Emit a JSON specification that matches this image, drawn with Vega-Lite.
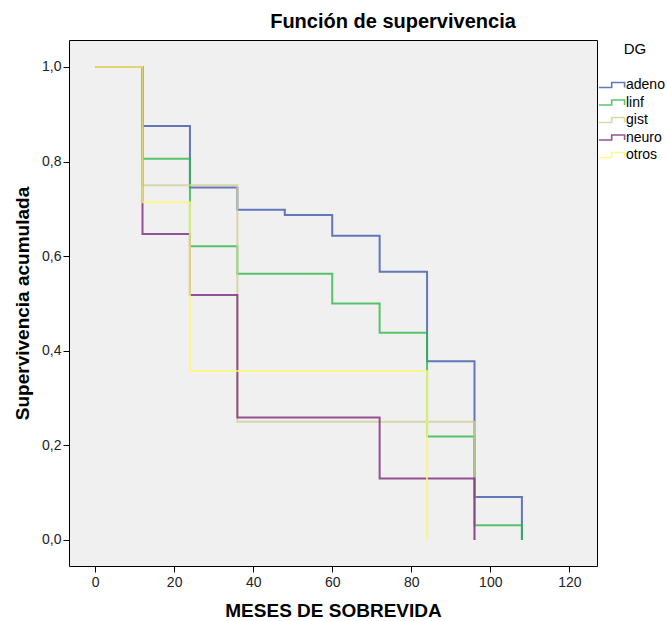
{
  "$schema": "https://vega.github.io/schema/vega-lite/v6.json",
  "autosize": "none",
  "width": 528,
  "height": 526,
  "padding": {"left": 69, "top": 40, "right": 70, "bottom": 55},
  "background": "#ffffff",
  "config": {
    "font": "Liberation Sans",
    "view": {"fill": "#F0F0F0", "stroke": "#000000", "strokeWidth": 1}
  },
  "title": {
    "text": "Función de supervivencia",
    "fontSize": 20,
    "fontWeight": "bold",
    "color": "#000000",
    "anchor": "middle",
    "dx": 60,
    "offset": 8
  },
  "data": {
    "values": [
      {"DG": "adeno", "mes": 0, "surv": 1.0},
      {"DG": "adeno", "mes": 12, "surv": 0.875},
      {"DG": "adeno", "mes": 24, "surv": 0.745},
      {"DG": "adeno", "mes": 36, "surv": 0.698},
      {"DG": "adeno", "mes": 48, "surv": 0.687},
      {"DG": "adeno", "mes": 60, "surv": 0.643},
      {"DG": "adeno", "mes": 72, "surv": 0.567},
      {"DG": "adeno", "mes": 84, "surv": 0.378},
      {"DG": "adeno", "mes": 96, "surv": 0.091},
      {"DG": "adeno", "mes": 108, "surv": 0.0},
      {"DG": "linf", "mes": 0, "surv": 1.0},
      {"DG": "linf", "mes": 12, "surv": 0.806},
      {"DG": "linf", "mes": 24, "surv": 0.621},
      {"DG": "linf", "mes": 36, "surv": 0.563},
      {"DG": "linf", "mes": 60, "surv": 0.5},
      {"DG": "linf", "mes": 72, "surv": 0.438},
      {"DG": "linf", "mes": 84, "surv": 0.219},
      {"DG": "linf", "mes": 96, "surv": 0.031},
      {"DG": "linf", "mes": 108, "surv": 0.0},
      {"DG": "gist", "mes": 0, "surv": 1.0},
      {"DG": "gist", "mes": 12, "surv": 0.75},
      {"DG": "gist", "mes": 36, "surv": 0.25},
      {"DG": "gist", "mes": 96, "surv": 0.0},
      {"DG": "neuro", "mes": 0, "surv": 1.0},
      {"DG": "neuro", "mes": 12, "surv": 0.647},
      {"DG": "neuro", "mes": 24, "surv": 0.518},
      {"DG": "neuro", "mes": 36, "surv": 0.259},
      {"DG": "neuro", "mes": 72, "surv": 0.13},
      {"DG": "neuro", "mes": 96, "surv": 0.0},
      {"DG": "otros", "mes": 0, "surv": 1.0},
      {"DG": "otros", "mes": 12, "surv": 0.714},
      {"DG": "otros", "mes": 24, "surv": 0.357},
      {"DG": "otros", "mes": 84, "surv": 0.0}
    ]
  },
  "mark": {"type": "line", "interpolate": "step-after", "strokeWidth": 2, "opacity": 0.8},
  "encoding": {
    "x": {
      "field": "mes",
      "type": "quantitative",
      "scale": {"domain": [-6.6, 127], "nice": false, "zero": false},
      "axis": {
        "title": "MESES DE SOBREVIDA",
        "titleFontSize": 19,
        "titleFontWeight": "bold",
        "titleColor": "#000000",
        "titlePadding": 12,
        "values": [0, 20, 40, 60, 80, 100, 120],
        "labelFontSize": 14,
        "labelColor": "#222222",
        "labelPadding": 3,
        "tickColor": "#000000",
        "tickSize": 6,
        "domain": false,
        "grid": false
      }
    },
    "y": {
      "field": "surv",
      "type": "quantitative",
      "scale": {"domain": [-0.055, 1.057], "nice": false, "zero": false},
      "axis": {
        "title": "Supervivencia acumulada",
        "titleFontSize": 19,
        "titleFontWeight": "bold",
        "titleColor": "#000000",
        "titlePadding": 9,
        "values": [0, 0.2, 0.4, 0.6, 0.8, 1.0],
        "labelExpr": "replace(format(datum.value, '.1f'), '.', ',')",
        "labelFontSize": 14,
        "labelColor": "#222222",
        "labelPadding": 2,
        "tickColor": "#000000",
        "tickSize": 6,
        "domain": false,
        "grid": false
      }
    },
    "color": {
      "field": "DG",
      "type": "nominal",
      "scale": {
        "domain": ["adeno", "linf", "gist", "neuro", "otros"],
        "range": ["#3E58AC", "#2EB848", "#D3CE97", "#7C287D", "#FBF873"]
      },
      "legend": {
        "title": "DG",
        "orient": "none",
        "legendX": 536,
        "legendY": 2,
        "padding": 0,
        "titleFontSize": 15,
        "titleFontWeight": "normal",
        "titleColor": "#000000",
        "titleAnchor": "middle",
        "titlePadding": 21,
        "symbolType": "M-2.17,0.42 H-0.05 V-0.42 H2.1 V0.42",
        "symbolSize": 144,
        "symbolStrokeWidth": 1.6,
        "symbolFillColor": "transparent",
        "labelFontSize": 14,
        "labelColor": "#000000",
        "labelOffset": 7,
        "rowPadding": 3.5
      }
    }
  }
}
